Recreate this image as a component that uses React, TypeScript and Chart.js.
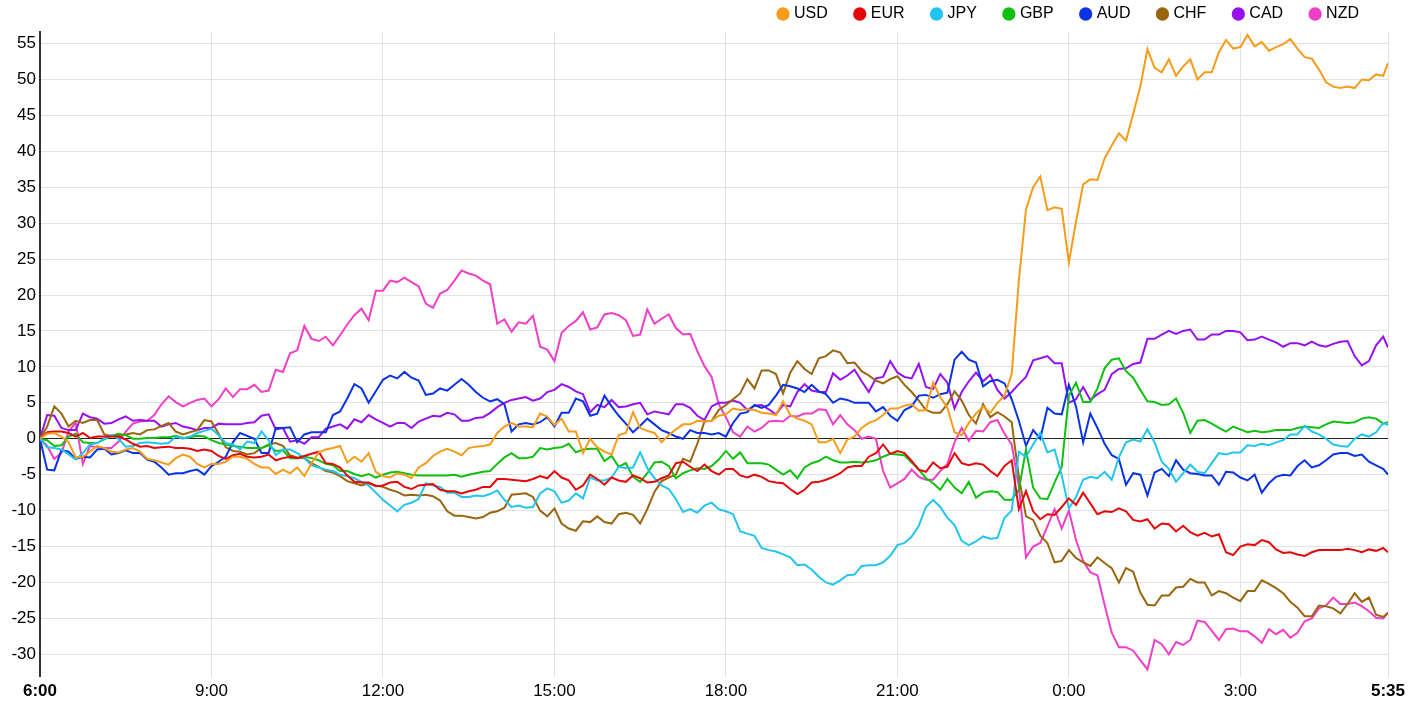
import React, { useEffect, useRef } from 'react';
import { Chart, registerables } from 'chart.js';

Chart.register(...registerables);

const FONT = '"Liberation Sans", Arial, Helvetica, sans-serif';

const currencies = ['USD', 'EUR', 'JPY', 'GBP', 'AUD', 'CHF', 'CAD', 'NZD'];
const colors = ['#f59c1a', '#e4080a', '#22c5ef', '#10c010', '#0b33e6', '#99650d', '#9810ee', '#ef3fc6'];

// minutes after 6:00, read every 7.5 minutes, last point at 5:35
const minutes = Array.from({ length: 189 }, (_, i) => i * 7.5).concat([1415]);

const usd = [
  0, 0.7, 0.8, 0.3, -0.5, -2.6, -2.5, -1.8,
  -1.0, -1.3, -1.8, -1.9, -1.5, -1.3, -1.8, -2.8,
  -3.0, -3.3, -3.6, -2.7, -2.2, -2.5, -3.5, -4.0,
  -3.5, -3.5, -3.2, -2.5, -2.5, -2.8, -3.5, -4.0,
  -4.0, -4.9, -4.3, -4.8, -4.0, -5.2, -3.4, -1.9,
  -1.5, -1.3, -1.0, -3.3, -2.5, -3.2, -2.0, -4.6,
  -5.2, -5.4, -4.8, -5.0, -5.5, -4.0, -3.4, -2.4,
  -1.8, -1.4, -1.8, -2.3, -1.3, -1.1, -1.0, -0.8,
  0.8, 1.7, 2.2, 1.7, 1.7, 1.6, 3.5, 3.1,
  1.9, 2.8, 1.0, 1.0, -2.0, 0, -1.2, -1.8,
  -2.2, 0.5, 0.8, 3.7, 1.5, 1.1, 0.8, -0.5,
  0.5, 1.3, 2.0, 2.0, 2.5, 2.4, 2.5, 3.2,
  3.4, 4.2, 4.0, 4.1, 4.0, 3.6, 3.5, 3.3,
  5.2, 3.3, 2.8, 2.5, 2.0, -0.5, -0.5, 0,
  -2.0, -0.1, 0.3, 1.5, 2.2, 2.6, 3.3, 4.2,
  4.2, 4.6, 4.8, 3.9, 4.0, 7.8, 5.8, 4.3,
  0.9, 0.5, 2.2, 3.5, 4.5, 3.6, 5.0, 6.0,
  9.0, 22.0, 31.9, 35.0, 36.5, 31.8, 32.2, 32.0,
  24.5, 30.2, 35.4, 36.1, 36.0, 39.0, 40.8, 42.5,
  41.5, 45.2, 49.0, 54.2, 51.6, 51.0, 52.8, 50.5,
  51.8, 52.8, 50.0, 51.0, 51.0, 53.8, 55.5, 54.3,
  54.5, 56.2, 54.6, 55.2, 54.0, 54.5, 54.9, 55.6,
  54.3, 53.1, 52.9, 51.4, 49.6, 49.0, 48.8, 49.0,
  48.8, 50.0, 49.9, 50.7, 50.5, 52.3];

const eur = [
  0, 0.9, 1.0, 1.0, 0.8, 0.3, 0.8, 0.1,
  0.3, 0.3, 0.3, 0.3, -0.1, -0.7, -1.1, -1.0,
  -1.3, -1.2, -1.1, -1.3, -1.3, -1.4, -1.7, -1.5,
  -1.7, -2.4, -2.8, -2.3, -2.1, -2.5, -2.6, -2.5,
  -2.2, -3.0, -2.7, -2.5, -2.7, -2.4, -2.1, -1.8,
  -3.4, -3.5, -4.0, -5.1, -6.0, -6.1, -6.1, -6.6,
  -6.5, -6.1, -6.0, -6.7, -7.0, -6.5, -6.4, -6.3,
  -7.1, -7.3, -7.3, -7.6, -7.3, -7.1, -6.7, -6.7,
  -5.6, -5.6, -5.7, -5.8, -5.9, -5.6, -5.2, -5.5,
  -4.5, -5.4, -5.8, -7.1, -6.5, -5.0, -5.6, -6.4,
  -5.4, -5.8, -6.0, -5.1, -5.5, -6.1, -6.0, -5.5,
  -5.1, -3.4, -3.2, -3.9, -4.5, -3.6, -4.5, -5.0,
  -4.2, -4.2, -5.1, -5.4, -5.0, -5.3, -5.9, -6.1,
  -6.2, -7.0, -7.7, -7.1, -6.1, -6.0, -5.7, -5.3,
  -4.8, -4.0, -3.8, -3.8, -2.5, -2.0, -0.8, -2.1,
  -1.7, -2.0, -3.1, -4.3, -4.6, -3.3, -4.1, -3.9,
  -2.0, -3.4, -3.7, -3.4, -3.6, -4.5, -5.2, -3.8,
  -3.0, -9.8, -7.3, -10.1, -11.2, -10.5, -10.6, -9.5,
  -8.3, -9.2, -7.5, -9.0, -10.5, -10.1, -10.2, -9.7,
  -10.1, -11.3, -11.5, -11.2, -12.5, -11.8, -11.9, -12.9,
  -12.1, -13.0, -13.5, -13.1, -13.6, -13.3, -15.8, -16.2,
  -15.0, -14.7, -14.8, -14.1, -14.4, -15.4, -15.9, -15.8,
  -16.1, -16.3, -15.8, -15.5, -15.5, -15.5, -15.5, -15.3,
  -15.5, -15.8, -15.4, -15.6, -15.2, -15.8];

const jpy = [
  0, -1.2, -1.3, -1.5, -2.2, -2.9, -2.0, -0.8,
  -0.6, 0, 0.5, 0, -1.1, -1.0, -0.6, -0.5,
  -0.6, -0.7, -0.6, 0.3, 0, 0.3, 0.8, 1.1,
  1.4, 0.5, -0.6, -0.8, -1.5, -0.4, -0.6, 1.0,
  -0.2, -2.3, -1.5, -1.5, -2.0, -2.7, -3.7, -4.0,
  -4.3, -4.5, -5.0, -5.2, -5.5, -6.0, -6.5, -7.5,
  -8.5, -9.3, -10.1, -9.2, -8.9, -8.4, -6.2, -6.5,
  -6.7, -7.5, -7.5, -8.1, -8.1, -7.9, -8.0, -7.7,
  -7.2, -8.5, -9.5, -9.3, -9.6, -9.5, -7.6, -6.9,
  -7.3, -8.9, -8.6, -7.6, -8.3, -5.4, -5.8, -5.8,
  -5.4, -3.9, -4.1, -4.0, -1.9, -4.1, -5.5, -6.5,
  -7.0, -8.4, -10.2, -9.8, -10.3, -9.3, -8.9, -9.8,
  -10.1, -10.5, -12.9, -13.2, -13.5, -15.2, -15.5, -15.7,
  -16.1, -16.5, -17.6, -17.5, -18.2, -19.2, -20.0, -20.3,
  -19.7, -19.0, -18.9, -17.7, -17.6, -17.6, -17.2, -16.3,
  -14.8, -14.5, -13.6, -12.1, -9.5, -8.5, -9.5, -11.0,
  -12.0, -14.2, -14.8, -14.3, -13.6, -13.9, -13.8, -11.0,
  -10.0, -1.8, -2.5, -0.8, 0.8, -1.9, -1.5, -5.1,
  -9.7, -8.1, -5.7, -5.3, -5.5, -4.6, -5.7, -2.6,
  -0.5, -0.1, -0.4, 1.3, -0.5, -3.2, -4.2, -6.0,
  -4.8, -3.6, -4.6, -4.8, -3.4, -2.0, -2.2, -1.9,
  -1.9, -0.9, -1.0, -0.7, -0.9, -0.5, -0.2, 0.6,
  0.6, 1.8, 1.0, 0.6, 0, -0.8, -1.0, -1.1,
  0, 0.6, 0.3, 0.9, 2.2, 1.9];

const gbp = [
  0, -0.2, -1.0, -0.9, 0.3, 0.7, -0.5, -0.6,
  -0.6, -0.1, 0.4, 0.7, 0.5, 0, 0, 0.1,
  0.1, 0.2, 0.2, 0.4, 0.1, 0.2, 0.4, 0.3,
  -0.2, -0.6, -0.8, -1.0, -1.1, -1.3, -1.3, -1.3,
  -0.9, -1.7, -1.6, -2.7, -2.7, -2.5, -2.7, -3.0,
  -3.5, -3.7, -4.5, -4.5, -4.9, -5.2, -4.9, -5.4,
  -5.0, -4.7, -4.6, -4.8, -5.0, -5.1, -5.1, -5.1,
  -5.1, -5.1, -5.0, -5.3, -5.0, -4.8, -4.6, -4.5,
  -3.5, -2.6, -2.0, -2.7, -2.7, -2.5, -1.3, -1.5,
  -1.3, -1.2, -0.7, -1.9, -1.5, -1.4, -1.4, -3.1,
  -2.4, -3.9, -3.4, -5.3, -6.0, -4.8, -3.3, -3.2,
  -3.8, -5.5, -4.8, -4.4, -4.1, -4.2, -3.8, -2.9,
  -1.7, -2.8, -1.9, -3.4, -3.4, -3.4, -3.6, -4.3,
  -5.0, -4.4, -5.5, -4.0, -3.4, -3.1, -2.5, -3.0,
  -3.3, -3.3, -3.2, -3.3, -3.2, -3.0, -2.5, -2.1,
  -2.2, -2.3, -3.3, -4.3, -5.5, -6.2, -7.1, -5.6,
  -6.8, -7.6, -6.0, -8.2, -7.5, -7.3, -7.4, -8.5,
  -8.5, -7.1, -1.5, -6.8, -8.3, -8.4, -6.1, -3.9,
  6.0, 7.8, 5.1, 5.1, 7.0, 9.8, 11.0, 11.2,
  9.4, 8.5, 6.8, 5.2, 5.1, 4.7, 4.8, 5.6,
  3.6, 0.8, 2.5, 2.6, 2.1, 1.5, 1.0, 1.7,
  1.3, 0.9, 1.1, 0.9, 1.0, 1.2, 1.2, 1.2,
  1.5, 1.7, 1.6, 1.5, 2.0, 2.4, 2.3, 2.2,
  2.3, 2.8, 3.0, 2.8, 2.1, 2.3];

const aud = [
  0, -4.3, -4.4, -1.6, -1.8, -2.8, -2.5, -2.6,
  -1.5, -1.4, -2.2, -2.0, -1.6, -2.0, -2.0, -2.9,
  -3.2, -4.0, -5.0, -4.8, -4.8, -4.5, -4.3, -5.0,
  -3.8, -3.2, -2.5, -0.5, 0.8, 0.4, 0, -2.0,
  -2.0, 1.5, 1.5, 1.6, -0.5, 0.6, 0.9, 0.9,
  0.9, 3.3, 3.8, 5.6, 7.6, 7.0, 5.0, 6.6,
  8.2, 8.8, 8.4, 9.3, 8.5, 8.1, 6.1, 6.3,
  7.0, 6.7, 7.5, 8.3, 7.5, 6.5, 5.7, 5.2,
  5.5, 4.8, 1.0, 2.0, 2.2, 2.0, 2.3, 3.0,
  1.7, 3.6, 3.6, 5.6, 5.2, 3.2, 3.5, 6.0,
  4.5, 3.2, 2.1, 0.9, 1.8, 2.8, 2.0, 1.2,
  0.8, 0.3, 0, 1.2, 0.8, 0.8, 0.6, 0.8,
  0.3, 2.2, 3.5, 3.7, 4.7, 4.3, 4.7, 6.0,
  7.5, 7.3, 7.0, 6.5, 7.5, 6.6, 6.2, 5.0,
  5.6, 5.4, 5.0, 5.0, 5.0, 3.8, 4.4, 3.2,
  2.5, 4.0, 4.5, 6.0, 6.1, 5.7, 6.2, 6.4,
  11.0, 12.1, 11.0, 10.6, 7.3, 8.0, 8.2, 7.7,
  5.5, 2.5, -1.0, 1.2, 0, 4.3, 3.5, 3.4,
  7.5, 4.5, -0.5, 3.5, 1.5, -0.7, -2.3, -2.8,
  -6.4, -4.8, -5.0, -7.9, -4.7, -4.2, -5.2, -3.0,
  -4.3, -4.8, -4.9, -5.1, -5.1, -6.4, -4.6, -4.7,
  -5.4, -5.8, -5.0, -7.5, -6.2, -5.3, -5.0, -5.1,
  -3.8, -3.0, -4.0, -3.7, -3.0, -2.2, -2.0, -2.0,
  -2.4, -2.2, -3.2, -3.7, -4.2, -5.0];

const chf = [
  0, 1.7, 4.5, 3.5, 1.7, 2.5, 2.2, 2.6,
  2.6, 0.6, 0.4, 0.4, 0.6, 0.8, 0.6, 1.2,
  1.3, 1.8, 2.2, 1.0, 0.6, 0.9, 1.2, 2.6,
  2.4, 0.7, -1.2, -1.7, -1.8, -2.2, -2.0, -1.3,
  -0.8, -0.6, -1.0, -2.3, -2.6, -2.7, -3.4, -3.9,
  -4.5, -4.7, -5.2, -5.9, -6.2, -6.5, -6.2, -6.5,
  -6.7, -7.1, -7.4, -7.9, -7.8, -7.9, -7.8, -8.0,
  -8.6, -10.1, -10.7, -10.7, -10.9, -11.1, -10.9, -10.3,
  -10.1, -9.6, -7.8, -7.7, -7.6, -8.1, -10.0, -10.8,
  -9.7, -11.8, -12.5, -12.8, -11.5, -11.6, -10.8, -11.6,
  -11.8, -10.5, -10.3, -10.6, -11.8, -9.8, -7.4, -5.9,
  -5.4, -5.0, -2.8, -3.2, -0.7, 2.4, 2.5, 4.0,
  4.7, 5.5, 6.3, 8.3, 7.0, 9.5, 9.5, 9.0,
  6.3, 9.2, 10.8, 9.7, 9.0, 11.2, 11.5, 12.3,
  12.0, 10.5, 10.6, 9.4, 8.8, 8.1, 7.7, 8.3,
  8.7, 7.5, 6.5, 5.3, 4.0, 3.6, 3.6, 4.8,
  6.6, 5.3, 3.3, 2.1, 4.8, 3.0, 3.7, 3.1,
  2.3, -5.3, -10.8, -11.3, -13.5, -14.5, -17.2, -17.0,
  -15.5, -16.6, -17.2, -17.7, -16.5, -17.3, -18.0, -20.0,
  -18.0, -18.5, -21.4, -23.1, -23.2, -21.8, -21.8, -20.7,
  -20.6, -19.5, -20.0, -20.0, -21.8, -21.2, -21.5, -22.1,
  -22.6, -21.2, -21.2, -19.7, -20.2, -20.8, -21.5, -22.7,
  -23.5, -24.7, -24.7, -23.2, -23.3, -23.6, -24.3, -23.0,
  -21.5, -22.7, -22.1, -24.5, -24.8, -24.2];

const cad = [
  0, 3.3, 3.2, 1.5, 1.2, 1.2, 3.5, 3.0,
  2.8, 2.1, 2.2, 2.7, 3.1, 2.5, 2.6, 2.5,
  2.5, 1.7, 2.0, 2.2, 1.7, 1.5, 1.2, 1.5,
  1.5, 2.1, 2.0, 2.0, 2.0, 2.2, 2.3, 3.2,
  3.4, 1.3, 1.5, -0.4, -0.2, -0.7, 0.2, 0.2,
  1.4, 1.7, 2.0, 1.4, 2.7, 2.3, 3.3, 2.7,
  2.2, 1.7, 2.2, 2.2, 1.5, 2.4, 2.8, 3.2,
  3.1, 3.6, 3.4, 2.5, 2.5, 2.9, 3.0, 3.6,
  4.4, 5.0, 5.4, 5.6, 5.8, 5.3, 5.6, 6.5,
  6.8, 7.6, 7.2, 6.6, 6.2, 3.7, 4.7, 4.4,
  5.4, 4.4, 4.5, 4.8, 5.0, 3.4, 3.8, 3.6,
  3.4, 4.8, 4.8, 4.3, 3.2, 2.6, 4.5, 5.0,
  5.0, 5.3, 5.0, 4.0, 4.6, 4.7, 4.1, 3.4,
  4.7, 4.5, 6.5, 7.6, 6.7, 6.5, 6.5, 9.1,
  8.2, 8.8, 9.6, 8.0, 6.5, 8.4, 8.6, 10.8,
  9.2, 8.6, 8.4, 10.4, 7.2, 6.9, 9.0, 7.8,
  4.2, 6.5, 8.0, 9.2, 8.0, 8.9, 6.8, 5.6,
  6.5, 7.6, 8.6, 10.9, 11.2, 11.5, 10.5, 10.5,
  5.0, 5.5, 7.2, 5.4, 6.2, 6.8, 9.0, 9.7,
  9.8, 10.4, 10.6, 13.9, 13.9, 14.5, 15.0, 14.6,
  15.0, 15.2, 13.8, 13.8, 14.5, 14.5, 15.0, 15.0,
  14.8, 13.7, 13.8, 14.2, 13.8, 13.4, 12.8, 13.3,
  13.3, 13.0, 13.5, 13.0, 12.8, 13.2, 13.5, 13.6,
  11.5, 10.2, 10.8, 13.0, 14.2, 12.7];

const nzd = [
  0, -1.0, -2.8, -2.0, 1.0, 2.2, -3.5, -1.0,
  -1.2, -1.3, -1.3, -0.4, 1.0, 2.1, 2.4, 2.5,
  3.3, 4.8, 5.9, 5.1, 4.5, 5.0, 5.4, 5.6,
  4.5, 5.5, 7.0, 5.8, 6.9, 6.9, 7.5, 6.5,
  6.7, 9.6, 9.3, 11.9, 12.3, 15.7, 13.9, 13.6,
  14.2, 13.0, 14.4, 15.9, 17.2, 18.1, 16.5, 20.6,
  20.6, 22.0, 21.8, 22.4, 21.8, 21.2, 18.8, 18.2,
  20.2, 20.7, 22.0, 23.4, 23.0, 22.7, 22.0, 21.5,
  16.0, 16.6, 14.9, 16.2, 16.0, 17.1, 12.8, 12.4,
  10.8, 14.7, 15.7, 16.4, 17.6, 15.2, 15.5, 17.3,
  17.5, 17.2, 16.5, 14.3, 14.5, 18.0, 16.0, 16.7,
  17.3, 15.4, 14.5, 14.6, 12.2, 10.1, 8.6, 4.8,
  3.0, 0.9, 0.3, 1.7, 1.0, 1.5, 2.4, 2.5,
  2.4, 3.2, 3.1, 3.5, 3.5, 4.1, 4.0, 2.0,
  3.3, 2.0, 1.2, 0, 0.3, 0, -4.5, -6.8,
  -6.2, -5.6, -4.3, -5.3, -5.7, -5.7, -4.5, -3.5,
  -0.5, 1.5, -0.3, 1.1, 1.0, 2.3, 2.6, 0.7,
  -0.8, -6.6, -16.5, -15.0, -14.5, -12.2, -9.8, -12.5,
  -10.0, -14.1, -17.0, -18.6, -19.0, -23.1, -27.0, -29.0,
  -29.0, -29.5, -30.8, -32.1, -28.0, -28.6, -30.0, -28.3,
  -28.7, -28.0, -25.3, -25.5, -26.7, -28.0, -26.5, -26.4,
  -26.8, -26.8, -27.5, -28.4, -26.5, -27.2, -26.6, -27.7,
  -27.0, -25.4, -25.0, -23.6, -23.2, -22.1, -23.0, -23.0,
  -22.8, -23.3, -24.0, -24.9, -25.0, -24.2];

const series = [usd, eur, jpy, gbp, aud, chf, cad, nzd];

const xTicks = [0, 180, 360, 540, 720, 900, 1080, 1260, 1415];
const yTicks = [-30, -25, -20, -15, -10, -5, 0, 5, 10, 15, 20, 25, 30, 35, 40, 45, 50, 55];
const yMin = -33.1;
const yMax = 56.6;

function timeLabel(m: number): string {
  const h = (6 + Math.floor(m / 60)) % 24;
  const mm = m % 60;
  return `${h}:${mm < 10 ? '0' + mm : mm}`;
}

export default function App() {
  const ref = useRef<HTMLCanvasElement>(null);

  useEffect(() => {
    if (!ref.current) return;
    const chart = new Chart(ref.current, {
      type: 'line',
      data: {
        datasets: currencies.map((c, k) => ({
          label: c,
          data: minutes.map((m, i) => ({ x: m, y: series[k][i] })),
          borderColor: colors[k],
          backgroundColor: colors[k],
          borderWidth: 2,
          pointRadius: 0,
          pointHoverRadius: 0,
          tension: 0,
        })),
      },
      options: {
        animation: false,
        responsive: true,
        maintainAspectRatio: false,
        layout: { padding: { top: -23, right: 24, bottom: 0, left: 0 } },
        plugins: {
          legend: {
            align: 'end',
            labels: {
              usePointStyle: true,
              pointStyle: 'circle',
              boxWidth: 6,
              boxHeight: 8,
              padding: 29,
              color: '#000',
              font: { family: FONT, size: 16 },
            },
          },
          tooltip: { enabled: false },
        },
        scales: {
          x: {
            type: 'linear',
            min: 0,
            max: 1415,
            afterBuildTicks: (axis: any) => {
              axis.ticks = xTicks.map((v) => ({ value: v }));
            },
            ticks: {
              autoSkip: false,
              maxRotation: 0,
              padding: 5,
              color: '#000',
              callback: (v: any) => timeLabel(Number(v)),
              font: (ctx: any) => ({
                family: FONT,
                size: 17,
                weight: ctx.index === 0 || ctx.index === xTicks.length - 1 ? 'bold' : 'normal',
              }),
            },
            grid: {
              drawTicks: false,
              lineWidth: 1,
              color: (ctx: any) => (ctx.index === 0 ? 'rgba(0,0,0,0)' : '#e2e2e2'),
            },
            border: { display: false },
          },
          y: {
            type: 'linear',
            min: yMin,
            max: yMax,
            afterBuildTicks: (axis: any) => {
              axis.ticks = yTicks.map((v) => ({ value: v }));
            },
            afterFit: (axis: any) => {
              axis.width = 40;
            },
            ticks: {
              padding: 4,
              color: '#000',
              font: { family: FONT, size: 17 },
            },
            grid: {
              drawTicks: false,
              lineWidth: 1,
              color: (ctx: any) => (ctx.tick && ctx.tick.value === 0 ? '#222' : '#e2e2e2'),
            },
            border: { display: true, color: '#333', width: 2 },
          },
        },
      },
    } as any);
    return () => chart.destroy();
  }, []);

  return (
    <div style={{ position: 'absolute', left: 0, top: 0, width: '1412px', height: '707px' }}>
      <canvas ref={ref} />
    </div>
  );
}
